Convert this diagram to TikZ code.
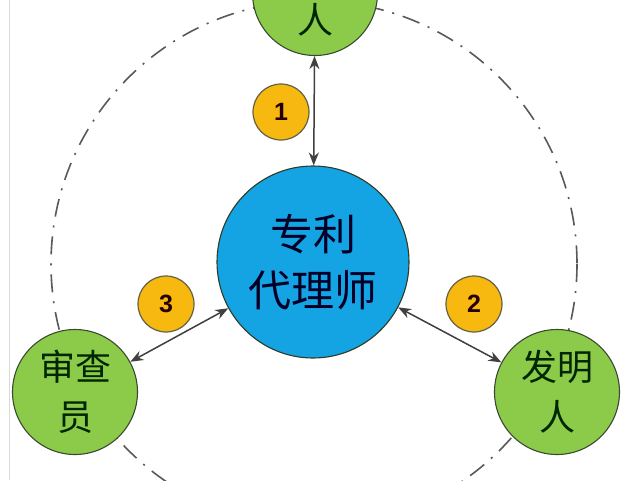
\documentclass[tikz,border=0pt]{standalone}
\usepackage{fontspec}
\setmainfont{Liberation Sans}
\newfontfamily\cjk{Noto Sans CJK SC}
\usetikzlibrary{arrows.meta}
\definecolor{gfill}{HTML}{8CCB4A}
\definecolor{bfill}{HTML}{14A3E3}
\definecolor{yfill}{HTML}{F7B90F}
\definecolor{edge}{HTML}{3A4A30}
\definecolor{arr}{HTML}{404040}
\tikzset{
  party/.style={circle,draw=edge,line width=1.1pt,fill=gfill,minimum size=125pt,inner sep=0pt,
    align=center,font=\cjk\fontsize{36}{50}\selectfont,text=black!85!green},
  agent/.style={circle,draw=edge!80!black,line width=1.1pt,fill=bfill,minimum size=192pt,inner sep=0pt,
    align=center,font=\cjk\fontsize{43}{56}\selectfont,text=black!85!blue},
  badge/.style={circle,draw=black!70!yellow,line width=1.2pt,fill=yfill,minimum size=56pt,inner sep=0pt,
    font=\bfseries\fontsize{25}{25}\selectfont,text=black!85!red},
  link/.style={draw=arr,line width=1.5pt,{Stealth[length=13pt,width=10pt]}-{Stealth[length=13pt,width=10pt]}},
  ring/.style={draw=black!65,line width=1.6pt,dash pattern=on 18pt off 9pt on 2pt off 9pt}
}
\begin{document}
\begin{tikzpicture}[x=1pt,y=-1pt]
\clip (0,0) rectangle (640,480);
\fill[white] (0,0) rectangle (640,480);
\draw[black!15,line width=1pt] (9,0) -- (9,480);
\draw[ring] (314,264) circle[radius=263];
\node[party] (top) at (315,-7) {};
\node[font=\cjk\fontsize{36}{50}\selectfont,text=black!85!green] (topt) at (315,20) {人};
\node[agent] (center) at (313,262) {专利\\代理师};
\node[party] (left) at (75,392) {审查\\员};
\node[party] (right) at (557,392) {发明\\人};
\node[badge] (b1) at (281,112) {1};
\node[badge] (b2) at (474,304) {2};
\node[badge] (b3) at (166,304) {3};
\draw[link] (top) -- (center);
\draw[link] (left) -- (center);
\draw[link] (right) -- (center);
\end{tikzpicture}
\end{document}
